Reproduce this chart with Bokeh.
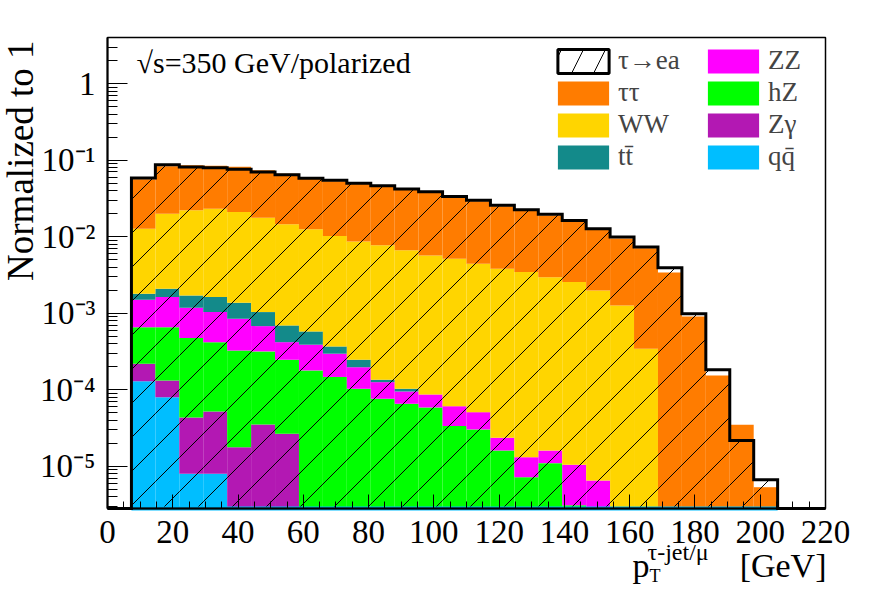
import numpy as np
from bokeh.plotting import figure
from bokeh.models import (Range1d, FixedTicker, CustomJSTickFormatter, Label,
                          Legend, LegendItem, ColumnDataSource, BoxAnnotation)
from bokeh.embed import file_html
from bokeh.resources import INLINE

# ---------------- data ----------------
X_RANGE = (0.0, 220.0)
N_BINS = 30                 # 30 bins of 7.33 GeV between 0 and 220
FIRST_FILLED_BIN = 1        # values below start at the 2nd bin (7.33 GeV)
Y_RANGE = (2.81e-6, 4.0)

signal_tau_ea = [0.0583, 0.0873, 0.0813, 0.0798, 0.0758, 0.0699, 0.0646, 0.0578,
                 0.0544, 0.0497, 0.0461, 0.0421, 0.0385, 0.0336, 0.0298, 0.0257,
                 0.0225, 0.0196, 0.0163, 0.0127, 0.00988, 0.00731, 0.00394,
                 0.000985, 0.000183, 2.18e-5, 6.66e-6]
bkg_tautau = [0.0434, 0.0630, 0.0634, 0.0611, 0.0607, 0.0560, 0.0521, 0.0453,
              0.0426, 0.0403, 0.0377, 0.0349, 0.0322, 0.0274, 0.0245, 0.0211,
              0.0183, 0.0160, 0.0133, 0.0103, 0.0082, 0.00669, 0.00341,
              0.000908, 0.000154, 3.49e-5, 5.33e-6]
bkg_ww = [0.01092, 0.01791, 0.02039, 0.02148, 0.01963, 0.01657, 0.01379, 0.01188,
          0.00981, 0.00843, 0.00757, 0.00652, 0.00561, 0.00510, 0.00439, 0.00380,
          0.00344, 0.00294, 0.00254, 0.00198, 0.00126, 0.000344, 0, 0, 0, 0, 0]
bkg_ttbar = [0.000298, 0.000467, 0.000529, 0.00059, 0.000525, 0.000356, 0.000274,
             0.00019, 7.2e-5, 5.0e-5, 9.5e-6, 8.1e-6, 0, 0, 0, 0, 0, 0, 0, 0,
             0, 0, 0, 0, 0, 0, 0]
bkg_zz = [0.000843, 0.000966, 0.000705, 0.000615, 0.000521, 0.000361, 0.000172,
          0.000209, 0.000149, 9.4e-5, 4.94e-5, 2.94e-5, 2.81e-5, 2.74e-5, 2.07e-5,
          7.5e-6, 5.95e-6, 5.05e-6, 7.4e-6, 6.52e-6, 0, 0, 0, 0, 0, 0, 0]
bkg_hz = [0.000439, 0.000526, 0.000432, 0.000367, 0.000308, 0.000282, 0.000220,
          0.000179, 0.000147, 0.000103, 7.63e-5, 6.56e-5, 5.87e-5, 3.36e-5, 3.03e-5,
          1.61e-5, 7.2e-6, 1.10e-5, 3.1e-6, 0, 0, 0, 0, 0, 0, 0, 0]
bkg_zgamma = [8.9e-5, 5.2e-5, 3.55e-5, 4.4e-5, 1.78e-5, 3.52e-5, 2.66e-5,
              0, 0, 0, 0, 0, 0, 0, 0, 0, 0, 0, 0, 0, 0, 0, 0, 0, 0, 0, 0]
bkg_qq = [1.296e-4, 8.0e-5, 7.98e-6, 7.98e-6, 0, 0, 0, 0, 0, 0, 0, 0, 0, 0,
          0, 0, 0, 0, 0, 0, 0, 0, 0, 0, 0, 0, 0]

# stacking order: bottom -> top
stack_names = ["qq̄", "Zγ", "hZ", "ZZ", "tt̄", "WW", "ττ"]
stack_values = [bkg_qq, bkg_zgamma, bkg_hz, bkg_zz, bkg_ttbar, bkg_ww, bkg_tautau]
stack_colors = ["#00BEFF", "#B318B3", "#00FF00", "#FF00FF", "#138A8A", "#FFD500", "#FF7C00"]
signal_name = "τ→ea"

legend_order = ["τ→ea", "ττ", "WW", "tt̄", "ZZ", "hZ", "Zγ", "qq̄"]

x_ticks = list(range(0, 221, 20))
x_minor_ticks = list(range(0, 221, 5))
y_ticks = [1e-5, 1e-4, 1e-3, 1e-2, 1e-1, 1.0]
y_tick_labels = ["10⁻⁵", "10⁻⁴", "10⁻³", "10⁻²", "10⁻¹", "1"]
y_minor_ticks = [k * 10.0 ** n for n in range(-6, 1) for k in range(2, 10)
                 if Y_RANGE[0] <= k * 10.0 ** n <= Y_RANGE[1]]

title_text = "√s=350 GeV/polarized"
y_title = "Normalized to 1"
x_title_main, x_title_sup, x_title_sub, x_title_unit = "p", "τ-jet/μ", "T", "[GeV]"

FONT = "Liberation Serif"

# ---------------- geometry (pixels of the canvas) ----------------
W, H = 872, 587
AX_L, AX_R, AX_T, AX_B = 107, 825, 37, 508      # where the axes box sits
HATCH_STEP_PX, HATCH_PHASE_PX = 34, 21           # ROOT fill style 3004 (45 deg)
BASELINE_FIX = 0.37                              # label anchor correction (em)

px_per_x = (AX_R - AX_L) / (X_RANGE[1] - X_RANGE[0])
ly0, ly1 = np.log10(Y_RANGE[0]), np.log10(Y_RANGE[1])
px_per_dec = (AX_B - AX_T) / (ly1 - ly0)
x_start = X_RANGE[0] - AX_L / px_per_x
x_end = X_RANGE[1] + (W - AX_R) / px_per_x
y_start = 10 ** (ly0 - (H - AX_B) / px_per_dec)
y_end = 10 ** (ly1 + AX_T / px_per_dec)

# the frame fills the whole canvas; the axes are pinned at the box edges
p = figure(width=W, height=H, x_range=Range1d(x_start, x_end), y_range=Range1d(y_start, y_end),
           y_axis_type="log", output_backend="svg", toolbar_location=None,
           min_border_left=0, min_border_right=0, min_border_top=0, min_border_bottom=0)
p.grid.visible = False
p.outline_line_color = None
p.background_fill_color = "white"
p.border_fill_color = "white"

edges = np.linspace(X_RANGE[0], X_RANGE[1], N_BINS + 1)
nfill = len(signal_tau_ea)
left = edges[FIRST_FILLED_BIN:FIRST_FILLED_BIN + nfill]
right = edges[FIRST_FILLED_BIN + 1:FIRST_FILLED_BIN + nfill + 1]

# ---------------- stacked backgrounds ----------------
cum = np.zeros(nfill)
rend = {}
for name, vals, color in zip(stack_names, stack_values, stack_colors):
    v = np.array(vals, dtype=float)
    top = cum + v
    bottom = np.maximum(cum, Y_RANGE[0])
    m = (v > 0) & (top > Y_RANGE[0])
    src = ColumnDataSource(dict(left=left[m], right=right[m], bottom=bottom[m], top=top[m]))
    rend[name] = p.quad(left="left", right="right", bottom="bottom", top="top", source=src,
                        fill_color=color, line_color=None)
    cum = top

# ---------------- signal: 45 deg hatching clipped to the histogram ----------------
sig = np.array(signal_tau_ea, dtype=float)
u_top = (np.log10(sig) - ly0) * px_per_dec
v_l = (left - X_RANGE[0]) * px_per_x
v_r = (right - X_RANGE[0]) * px_per_x
hx0, hy0, hx1, hy1 = [], [], [], []
kmin = int(np.floor((v_l.min() - u_top.max() - HATCH_PHASE_PX) / HATCH_STEP_PX)) - 1
kmax = int(np.ceil((v_r.max() - HATCH_PHASE_PX) / HATCH_STEP_PX)) + 1
for k in range(kmin, kmax + 1):
    c = HATCH_PHASE_PX + k * HATCH_STEP_PX
    for i in range(nfill):
        lo = max(v_l[i], c)
        hi = min(v_r[i], c + u_top[i])
        if lo < hi:
            hx0.append(X_RANGE[0] + lo / px_per_x)
            hx1.append(X_RANGE[0] + hi / px_per_x)
            hy0.append(10 ** (ly0 + (lo - c) / px_per_dec))
            hy1.append(10 ** (ly0 + (hi - c) / px_per_dec))
p.segment(hx0, hy0, hx1, hy1, line_color="black", line_width=1)

# qq histogram lying on the floor where it is empty
p.line([left[0], right[-1]], [Y_RANGE[0], Y_RANGE[0]], line_color=stack_colors[0], line_width=4)

# thick step outline of the signal
xs, ys = [X_RANGE[0], left[0]], [Y_RANGE[0], Y_RANGE[0]]
for i in range(nfill):
    xs += [left[i], right[i]]
    ys += [sig[i], sig[i]]
xs += [right[-1], X_RANGE[1]]
ys += [Y_RANGE[0], Y_RANGE[0]]
p.line(xs, ys, line_color="black", line_width=3, line_join="miter")

# legend swatch for the signal: a copy of the first bin shifted below the visible range,
# so that it is only seen in the legend
proxy_src = ColumnDataSource(dict(left=left[:1], right=right[:1],
                                  bottom=[y_start / 100.0], top=[y_start / 10.0]))
rend[signal_name] = p.quad(left="left", right="right", bottom="bottom", top="top",
                           source=proxy_src, fill_color=None, line_color="black", line_width=3,
                           hatch_pattern="/", hatch_color="black", hatch_scale=44,
                           hatch_weight=1)

# axes box (top and right sides)
p.add_layout(BoxAnnotation(left=X_RANGE[0], right=X_RANGE[1], bottom=Y_RANGE[0], top=Y_RANGE[1],
                           fill_color=None, line_color="black", line_alpha=1, line_width=1.5))

# ---------------- axes ----------------
xa = p.xaxis[0]
xa.fixed_location = Y_RANGE[0]
xa.bounds = X_RANGE
xa.ticker = FixedTicker(ticks=x_ticks, minor_ticks=x_minor_ticks)
xa.major_tick_in = 14
xa.major_tick_out = 0
xa.minor_tick_in = 7
xa.minor_tick_out = 0
xa.axis_line_width = 2
xa.major_label_text_font = FONT
xa.major_label_text_font_size = "33px"
xa.major_label_text_color = "black"
xa.major_label_standoff = 12

ya = p.yaxis[0]
ya.fixed_location = X_RANGE[0]
ya.bounds = Y_RANGE
ya.ticker = FixedTicker(ticks=y_ticks, minor_ticks=y_minor_ticks)
ya.formatter = CustomJSTickFormatter(args=dict(tvals=y_ticks, tlabels=y_tick_labels), code="""
for (let i = 0; i < tvals.length; i++) {
  if (Math.abs(Math.log10(tick) - Math.log10(tvals[i])) < 1e-6) return tlabels[i];
}
return "";
""")
ya.major_tick_in = 20
ya.major_tick_out = 0
ya.minor_tick_in = 10
ya.minor_tick_out = 0
ya.axis_line_width = 2
ya.major_label_text_font = FONT
ya.major_label_text_font_size = "33px"
ya.major_label_text_color = "black"
ya.major_label_standoff = 12

# ---------------- texts (pixels; baseline given from the canvas top) ----------------
def lab(text, x, baseline_from_top, size_px, **kw):
    fix = BASELINE_FIX * size_px
    if kw.get("angle") == 90:
        x, y = x - fix, H - baseline_from_top
    else:
        y = H - (baseline_from_top - fix)
    p.add_layout(Label(x=x, y=y, x_units="screen", y_units="screen", text=text,
                       text_font=FONT, text_font_size=f"{size_px}px", text_baseline="alphabetic",
                       text_color="black", **kw))

lab(title_text, 136, 73, 30)
lab(y_title, 34, 40, 37, angle=90, angle_units="deg", text_align="right")
lab(x_title_main, 632, 578, 34)
lab(x_title_sup, 647, 560, 24)
lab(x_title_sub, 649, 582, 18)
lab(x_title_unit, 826, 578, 34, text_align="right")

# ---------------- legend ----------------
items = [LegendItem(label=n, renderers=[rend[n]]) for n in legend_order]
legend = Legend(items=items, location=(551, H - 172), nrows=4, ncols=2,
                glyph_width=64, glyph_height=30, label_standoff=3, label_width=82,
                label_height=24, spacing=1, padding=0, margin=0,
                label_text_font=FONT, label_text_font_size="27px",
                background_fill_alpha=0, border_line_alpha=0)
p.add_layout(legend)

open("out.html", "w").write(file_html(p, INLINE))
